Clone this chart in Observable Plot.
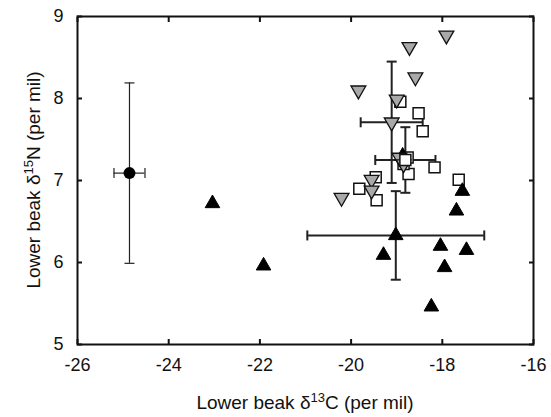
<!DOCTYPE html>
<html>
<head>
<meta charset="utf-8">
<script src="https://cdn.jsdelivr.net/npm/d3@7"></script>
<script src="https://cdn.jsdelivr.net/npm/@observablehq/plot@0.6"></script>
<style>
  html, body { margin: 0; padding: 0; background: #fff; }
</style>
</head>
<body>
<div id="chart"></div>
<script>
// ---- data ----
const xTicks = [-26, -24, -22, -20, -18, -16];
const yTicks = [5, 6, 7, 8, 9];

// grey inverted triangles
const greyX = [-17.91, -18.72, -18.59, -19.84, -19.00, -18.94, -19.55, -19.55, -20.21, -18.85];
const greyY = [8.77, 8.63, 8.26, 8.10, 7.99, 7.28, 7.01, 6.88, 6.79, 7.20];

// open squares
const squareX = [-18.92, -18.52, -18.43, -18.17, -18.76, -18.74, -17.64, -19.46, -19.82, -19.44, -18.85];
const squareY = [7.96, 7.82, 7.60, 7.16, 7.28, 7.08, 7.01, 7.04, 6.90, 6.76, 7.20];

// black triangles
const blackX = [-23.04, -21.92, -17.56, -17.69, -19.29, -18.04, -17.47, -17.95, -18.24, -18.87];
const blackY = [6.72, 5.96, 6.87, 6.63, 6.09, 6.20, 6.15, 5.94, 5.46, 7.30];

// group means with error bars (circle, grey, square, black)
const meanGroup = ["circle", "grey", "square", "black"];
const meanX = [-24.86, -19.11, -18.81, -19.02];
const meanY = [7.09, 7.71, 7.25, 6.33];
const errX  = [0.34, 0.68, 0.66, 1.94];
const errY  = [1.10, 0.74, 0.40, 0.54];

// ---- tables ----
const greyPts = greyX.map((x, i) => ({x, y: greyY[i]}));
const squarePts = squareX.map((x, i) => ({x, y: squareY[i]}));
const blackPts = blackX.map((x, i) => ({x, y: blackY[i]}));
const means = meanGroup.map((g, i) => ({
  g, x: meanX[i], y: meanY[i],
  x1: meanX[i] - errX[i], x2: meanX[i] + errX[i],
  y1: meanY[i] - errY[i], y2: meanY[i] + errY[i],
  w: g === "circle" ? 1.2 : 2
}));

// ---- custom symbols ----
const triangleDown = {
  draw(ctx, size) {
    const y = -Math.sqrt(size / (3 * Math.sqrt(3)));
    ctx.moveTo(0, -2 * y);
    ctx.lineTo(-Math.sqrt(3) * y, y);
    ctx.lineTo(Math.sqrt(3) * y, y);
    ctx.closePath();
  }
};
const capH = { draw(ctx) { ctx.moveTo(-5, 0); ctx.lineTo(5, 0); } };
const capV = { draw(ctx) { ctx.moveTo(0, -5); ctx.lineTo(0, 5); } };

const grey = "#a9a9a9";

const svg = Plot.plot({
  width: 551,
  height: 417,
  marginLeft: 77,
  marginRight: 18,
  marginTop: 16,
  marginBottom: 73,
  style: { fontFamily: "'Liberation Sans', Arial, sans-serif", fontSize: "18px", color: "#111", background: "#fff" },
  x: { domain: [-26, -16], label: null },
  y: { domain: [5, 9], label: null },
  marks: [
    Plot.axisX({ anchor: "bottom", ticks: xTicks, tickSize: -5, tickPadding: 19, tickFormat: d => String(d), label: null, strokeWidth: 2, fontSize: 18 }),
    Plot.axisX({ anchor: "top", ticks: xTicks, tickSize: -5, tickFormat: () => "", label: null, strokeWidth: 2 }),
    Plot.axisY({ anchor: "left", ticks: yTicks, tickSize: -5, tickPadding: 19, tickFormat: d => String(d), label: null, strokeWidth: 2, fontSize: 18 }),
    Plot.axisY({ anchor: "right", ticks: yTicks, tickSize: -5, tickFormat: () => "", label: null, strokeWidth: 2 }),

    // error bars
    Plot.ruleX(means, { x: "x", y1: "y1", y2: "y2", stroke: "#222", strokeWidth: "w" }),
    Plot.ruleY(means, { y: "y", x1: "x1", x2: "x2", stroke: "#222", strokeWidth: "w" }),
    Plot.dot(means, { x: "x", y: "y1", symbol: capH, stroke: "#222", strokeWidth: "w" }),
    Plot.dot(means, { x: "x", y: "y2", symbol: capH, stroke: "#222", strokeWidth: "w" }),
    Plot.dot(means, { x: "x1", y: "y", symbol: capV, stroke: "#222", strokeWidth: "w" }),
    Plot.dot(means, { x: "x2", y: "y", symbol: capV, stroke: "#222", strokeWidth: "w" }),

    // individual points
    Plot.dot(squarePts, { x: "x", y: "y", symbol: "square", r: 6.2, fill: "white", stroke: "#111", strokeWidth: 1.5 }),
    Plot.dot(blackPts, { x: "x", y: "y", symbol: "triangle", r: 5.4, fill: "#000", stroke: "#000", strokeWidth: 1 }),
    Plot.dot(greyPts, { x: "x", y: "y", symbol: triangleDown, r: 5.5, fill: grey, stroke: "#111", strokeWidth: 1.3 }),

    // means
    Plot.dot(means.filter(d => d.g === "circle"), { x: "x", y: "y", r: 6, fill: "#000" }),
    Plot.dot(means.filter(d => d.g === "grey"), { x: "x", y: "y", symbol: triangleDown, r: 5.5, fill: grey, stroke: "#111", strokeWidth: 1.3 }),
    Plot.dot(means.filter(d => d.g === "square"), { x: "x", y: "y", symbol: "square", r: 6.2, fill: "white", stroke: "#111", strokeWidth: 1.5 }),
    Plot.dot(means.filter(d => d.g === "black"), { x: "x", y: "y", symbol: "triangle", r: 5.4, fill: "#000", stroke: "#000", strokeWidth: 1 }),

    Plot.frame({ stroke: "#111", strokeWidth: 2 })
  ]
});

// axis titles with superscripts
const s = d3.select(svg);
const xl = s.append("text")
  .attr("x", 305).attr("y", 409)
  .attr("text-anchor", "middle")
  .attr("fill", "#111")
  .style("font-size", "19px");
xl.append("tspan").text("Lower beak δ");
xl.append("tspan").attr("baseline-shift", "super").style("font-size", "13px").text("13");
xl.append("tspan").text("C (per mil)");

const yl = s.append("text")
  .attr("transform", "translate(40,180) rotate(-90)")
  .attr("text-anchor", "middle")
  .attr("fill", "#111")
  .style("font-size", "19px");
yl.append("tspan").text("Lower beak δ");
yl.append("tspan").attr("baseline-shift", "super").style("font-size", "13px").text("15");
yl.append("tspan").text("N (per mil)");

document.getElementById("chart").appendChild(svg);
</script>
</body>
</html>
